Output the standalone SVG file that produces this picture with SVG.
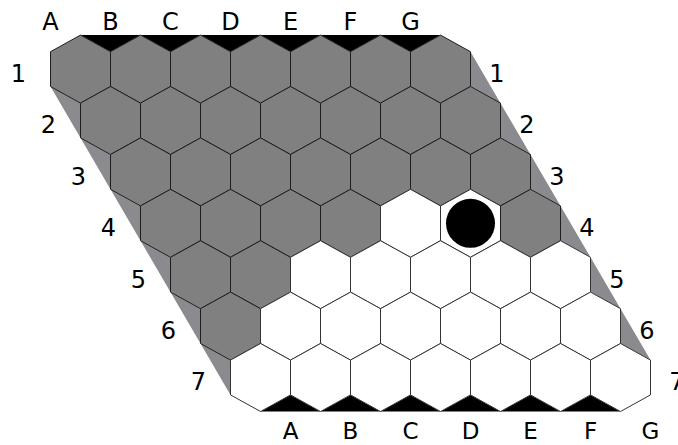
<svg xmlns="http://www.w3.org/2000/svg" xmlns:xlink="http://www.w3.org/1999/xlink" width="678" height="445" viewBox="0 0 678 445">
<style>
.g{fill:#808080;stroke:#1e1e1e;stroke-width:1}
.w{fill:#ffffff;stroke:#333333;stroke-width:1}
.strip{fill:#8b8a8f;stroke:none}
.blk{fill:#000000;stroke:none}
.lbl{font-family:"DejaVu Sans",sans-serif;font-size:24px;fill:#000;text-anchor:middle}
.bl{font-size:23px}
</style>
<defs>
<polygon id="hex" points="0,-34 30,-17.4 30,17.4 0,34 -30,17.4 -30,-17.4"/>
</defs>
<rect width="678" height="445" fill="#ffffff"/>
<g id="borders">
<polygon class="strip" points="50.5,86.5 80.5,103.1 80.5,137.9 110.5,154.5 110.5,189.3 140.5,205.9 140.5,240.7 170.5,257.3 170.5,292.1 200.5,308.7 200.5,343.5 230.5,360.1 230.5,394.9"/>
<polygon class="strip" points="470.5,51.7 470.5,86.5 500.5,103.1 500.5,137.9 530.5,154.5 530.5,189.3 560.5,205.9 560.5,240.7 590.5,257.3 590.5,292.1 620.5,308.7 620.5,343.5 650.5,360.1"/>
<path class="blk" d="M80.5,35.1 L440.5,35.1 L410.5,51.7 L380.5,35.1 L350.5,51.7 L320.5,35.1 L290.5,51.7 L260.5,35.1 L230.5,51.7 L200.5,35.1 L170.5,51.7 L140.5,35.1 L110.5,51.7 Z"/>
<path class="blk" d="M260.5,411.5 L620.5,411.5 L590.5,394.9 L560.5,411.5 L530.5,394.9 L500.5,411.5 L470.5,394.9 L440.5,411.5 L410.5,394.9 L380.5,411.5 L350.5,394.9 L320.5,411.5 L290.5,394.9 Z"/>
</g>
<g id="cells">
<g id="A1"><use xlink:href="#hex" class="g" x="80.5" y="69.1"/></g>
<g id="B1"><use xlink:href="#hex" class="g" x="140.5" y="69.1"/></g>
<g id="C1"><use xlink:href="#hex" class="g" x="200.5" y="69.1"/></g>
<g id="D1"><use xlink:href="#hex" class="g" x="260.5" y="69.1"/></g>
<g id="E1"><use xlink:href="#hex" class="g" x="320.5" y="69.1"/></g>
<g id="F1"><use xlink:href="#hex" class="g" x="380.5" y="69.1"/></g>
<g id="G1"><use xlink:href="#hex" class="g" x="440.5" y="69.1"/></g>
<g id="A2"><use xlink:href="#hex" class="g" x="110.5" y="120.5"/></g>
<g id="B2"><use xlink:href="#hex" class="g" x="170.5" y="120.5"/></g>
<g id="C2"><use xlink:href="#hex" class="g" x="230.5" y="120.5"/></g>
<g id="D2"><use xlink:href="#hex" class="g" x="290.5" y="120.5"/></g>
<g id="E2"><use xlink:href="#hex" class="g" x="350.5" y="120.5"/></g>
<g id="F2"><use xlink:href="#hex" class="g" x="410.5" y="120.5"/></g>
<g id="G2"><use xlink:href="#hex" class="g" x="470.5" y="120.5"/></g>
<g id="A3"><use xlink:href="#hex" class="g" x="140.5" y="171.9"/></g>
<g id="B3"><use xlink:href="#hex" class="g" x="200.5" y="171.9"/></g>
<g id="C3"><use xlink:href="#hex" class="g" x="260.5" y="171.9"/></g>
<g id="D3"><use xlink:href="#hex" class="g" x="320.5" y="171.9"/></g>
<g id="E3"><use xlink:href="#hex" class="g" x="380.5" y="171.9"/></g>
<g id="F3"><use xlink:href="#hex" class="g" x="440.5" y="171.9"/></g>
<g id="G3"><use xlink:href="#hex" class="g" x="500.5" y="171.9"/></g>
<g id="A4"><use xlink:href="#hex" class="g" x="170.5" y="223.3"/></g>
<g id="B4"><use xlink:href="#hex" class="g" x="230.5" y="223.3"/></g>
<g id="C4"><use xlink:href="#hex" class="g" x="290.5" y="223.3"/></g>
<g id="D4"><use xlink:href="#hex" class="g" x="350.5" y="223.3"/></g>
<g id="E4"><use xlink:href="#hex" class="w" x="410.5" y="223.3"/></g>
<g id="F4"><use xlink:href="#hex" class="w" x="470.5" y="223.3"/><circle cx="470.5" cy="223.3" r="24.5" fill="#000"/></g>
<g id="G4"><use xlink:href="#hex" class="g" x="530.5" y="223.3"/></g>
<g id="A5"><use xlink:href="#hex" class="g" x="200.5" y="274.7"/></g>
<g id="B5"><use xlink:href="#hex" class="g" x="260.5" y="274.7"/></g>
<g id="C5"><use xlink:href="#hex" class="w" x="320.5" y="274.7"/></g>
<g id="D5"><use xlink:href="#hex" class="w" x="380.5" y="274.7"/></g>
<g id="E5"><use xlink:href="#hex" class="w" x="440.5" y="274.7"/></g>
<g id="F5"><use xlink:href="#hex" class="w" x="500.5" y="274.7"/></g>
<g id="G5"><use xlink:href="#hex" class="w" x="560.5" y="274.7"/></g>
<g id="A6"><use xlink:href="#hex" class="g" x="230.5" y="326.1"/></g>
<g id="B6"><use xlink:href="#hex" class="w" x="290.5" y="326.1"/></g>
<g id="C6"><use xlink:href="#hex" class="w" x="350.5" y="326.1"/></g>
<g id="D6"><use xlink:href="#hex" class="w" x="410.5" y="326.1"/></g>
<g id="E6"><use xlink:href="#hex" class="w" x="470.5" y="326.1"/></g>
<g id="F6"><use xlink:href="#hex" class="w" x="530.5" y="326.1"/></g>
<g id="G6"><use xlink:href="#hex" class="w" x="590.5" y="326.1"/></g>
<g id="A7"><use xlink:href="#hex" class="w" x="260.5" y="377.5"/></g>
<g id="B7"><use xlink:href="#hex" class="w" x="320.5" y="377.5"/></g>
<g id="C7"><use xlink:href="#hex" class="w" x="380.5" y="377.5"/></g>
<g id="D7"><use xlink:href="#hex" class="w" x="440.5" y="377.5"/></g>
<g id="E7"><use xlink:href="#hex" class="w" x="500.5" y="377.5"/></g>
<g id="F7"><use xlink:href="#hex" class="w" x="560.5" y="377.5"/></g>
<g id="G7"><use xlink:href="#hex" class="w" x="620.5" y="377.5"/></g>
</g>
<g id="connectors"></g>
<g id="labels">
<text class="lbl" x="50.5" y="30">A</text>
<text class="lbl" x="110.5" y="30">B</text>
<text class="lbl" x="170.5" y="30">C</text>
<text class="lbl" x="230.5" y="30">D</text>
<text class="lbl" x="290.5" y="30">E</text>
<text class="lbl" x="350.5" y="30">F</text>
<text class="lbl" x="410.5" y="30">G</text>
<text class="lbl bl" x="290.5" y="439">A</text>
<text class="lbl bl" x="350.5" y="439">B</text>
<text class="lbl bl" x="410.5" y="439">C</text>
<text class="lbl bl" x="470.5" y="439">D</text>
<text class="lbl bl" x="530.5" y="439">E</text>
<text class="lbl bl" x="590.5" y="439">F</text>
<text class="lbl bl" x="650.5" y="439">G</text>
<text class="lbl" x="18.5" y="82">1</text>
<text class="lbl" x="48.5" y="133.4">2</text>
<text class="lbl" x="78.5" y="184.8">3</text>
<text class="lbl" x="108.5" y="236.2">4</text>
<text class="lbl" x="138.5" y="287.6">5</text>
<text class="lbl" x="168.5" y="339">6</text>
<text class="lbl" x="198.5" y="390.4">7</text>
<text class="lbl" x="497" y="82">1</text>
<text class="lbl" x="527" y="133.4">2</text>
<text class="lbl" x="557" y="184.8">3</text>
<text class="lbl" x="587" y="236.2">4</text>
<text class="lbl" x="617" y="287.6">5</text>
<text class="lbl" x="647" y="339">6</text>
<text class="lbl" x="677" y="390.4">7</text>
</g>
</svg>
